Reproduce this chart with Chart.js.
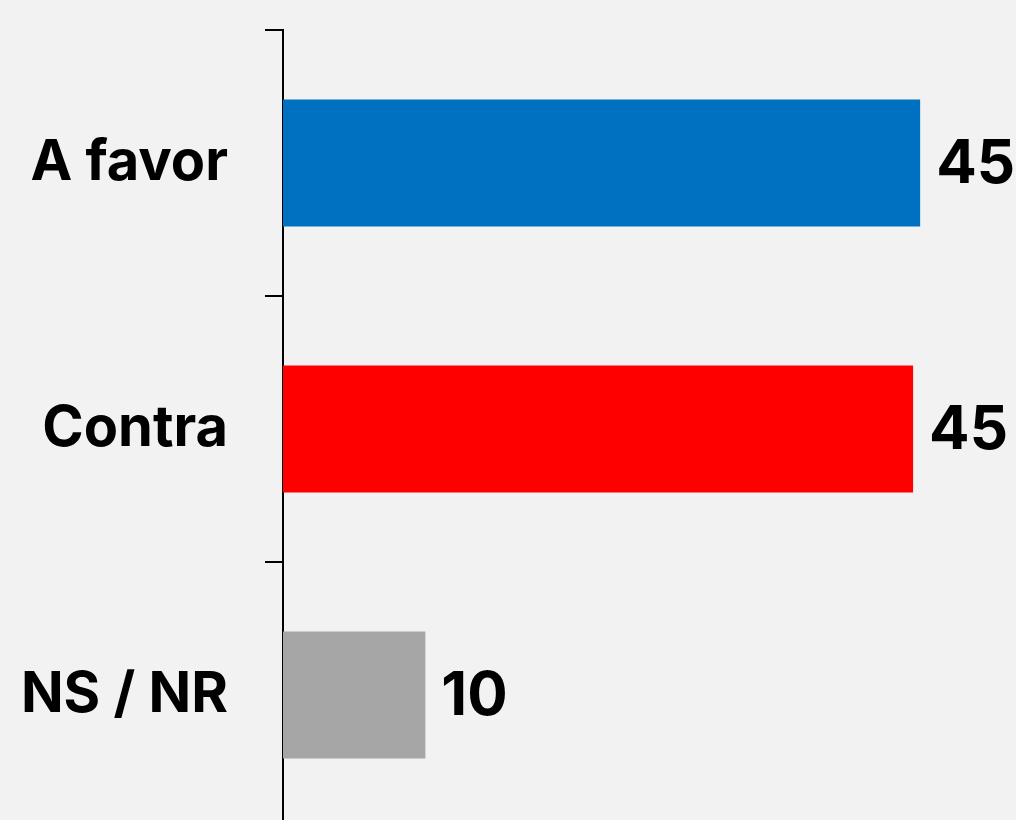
<!DOCTYPE html>
<html>
<head>
<meta charset="utf-8">
<script src="https://cdn.jsdelivr.net/npm/chart.js@4"></script>
<style>
  html, body { margin: 0; padding: 0; background: #f2f2f2; overflow: hidden; }
  #wrap { width: 1016px; height: 828px; }
</style>
</head>
<body>
<div id="wrap"><canvas id="opinionChart"></canvas></div>
<script>
// Chart data
const categories = ['A favor', 'Contra', 'NS / NR'];
const values = [45.2, 44.7, 10.1];
const barColors = ['#0070c0', '#ff0000', '#a6a6a6'];

// Draw the rounded value next to each bar
const valueLabels = {
    id: 'valueLabels',
    afterDatasetsDraw(chart) {
        const ctx = chart.ctx;
        const meta = chart.getDatasetMeta(0);
        ctx.save();
        ctx.fillStyle = '#000';
        ctx.font = '700 60px Inter';
        ctx.textAlign = 'left';
        ctx.textBaseline = 'middle';
        meta.data.forEach((bar, i) => {
            ctx.fillText(Math.round(values[i]), bar.x + 16, bar.y + 2);
        });
        ctx.restore();
    }
};

const ctx = document.getElementById('opinionChart').getContext('2d');
const opinionChart = new Chart(ctx, {
    type: 'bar',
    data: {
        labels: categories,
        datasets: [{
            data: values,
            backgroundColor: barColors,
            categoryPercentage: 1,
            barPercentage: 0.478
        }]
    },
    options: {
        indexAxis: 'y',
        responsive: true,
        maintainAspectRatio: false,
        animation: false,
        layout: { padding: { top: 30, right: 0, bottom: 0, left: 0 } },
        plugins: {
            legend: { display: false },
            tooltip: { enabled: false }
        },
        scales: {
            x: {
                display: false,
                min: 0,
                max: 52
            },
            y: {
                afterFit(scale) {
                    scale.width = 283;
                    // keep the plot from shrinking to fit the big labels
                    scale.paddingTop = 0;
                    scale.paddingBottom = 0;
                },
                border: { color: '#000', width: 2 },
                grid: {
                    drawOnChartArea: false,
                    color: '#000',
                    lineWidth: 2,
                    tickLength: 18
                },
                ticks: {
                    color: '#000',
                    padding: 37,
                    font: { family: 'Inter', size: 56, weight: '700' }
                }
            }
        }
    },
    plugins: [valueLabels]
});
</script>
</body>
</html>
